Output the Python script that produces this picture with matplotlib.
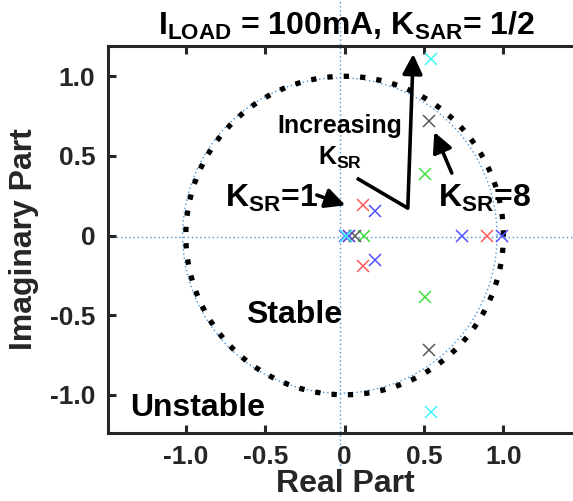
import numpy as np
import matplotlib
matplotlib.use("Agg")
import matplotlib.pyplot as plt

plt.rc('font', family='Liberation Sans', weight='bold')
plt.rc('axes', labelweight='bold')
plt.rc('mathtext', fontset='custom', rm='Liberation Sans:bold',
       it='Liberation Sans:bold', bf='Liberation Sans:bold', default='rm')

# pole locations (real, imaginary)
red_re   = [0.113, 0.113, 0.894, 0.03]
red_im   = [0.19, -0.19, 0.0, 0.0]
blue_re  = [0.19, 0.19, 0.74, 0.994, 0.0, 0.03]
blue_im  = [0.152, -0.152, 0.0, 0.0, 0.0, 0.0]
green_re = [0.505, 0.505, 0.12]
green_im = [0.385, -0.385, 0.0]
gray_re  = [0.532, 0.532, 0.065]
gray_im  = [0.72, -0.72, 0.0]
cyan_re  = [0.547, 0.547, 0.01]
cyan_im  = [1.107, -1.107, 0.0]

series = [
    (red_re, red_im, '#ff5a5a'),
    (blue_re, blue_im, '#5050ff'),
    (green_re, green_im, '#3ee03e'),
    (gray_re, gray_im, '#5a5a5a'),
    (cyan_re, cyan_im, '#3ff5f5'),
]

xticks = [-1.0, -0.5, 0.0, 0.5, 1.0]
xtick_labels = ['-1.0', '-0.5', '0', '0.5', '1.0']
yticks = [-1.0, -0.5, 0.0, 0.5, 1.0]
ytick_labels = ['-1.0', '-0.5', '0', '0.5', '1.0']

W, H = 573, 501
fig = plt.figure(figsize=(W/100, H/100), dpi=100)
ax = fig.add_axes([108/W, (H-433)/H, 474/W, 387/H])
ax.set_xlim(-1.49, 1.495)
ax.set_ylim(-1.24, 1.19)

gridc = '#4a95d6'
th = np.linspace(0, 2*np.pi, 400)
# light blue dotted grid circle and axes
ax.plot(-0.03 + 0.99*np.cos(th), 0.99*np.sin(th), color=gridc, lw=1.0,
        linestyle=(0, (1, 2)), zorder=1)
ax.plot([-1.49, 1.6], [-0.008, -0.008], color=gridc, lw=1.0,
        linestyle=(0, (1, 2)), zorder=1, clip_on=False)
ax.plot([-0.03, -0.03], [-1.55, 1.5], color=gridc, lw=1.0,
        linestyle=(0, (1, 2)), zorder=1, clip_on=False)

# black unit circle
ax.plot(np.cos(th), np.sin(th), color='black', lw=3.8,
        linestyle=(0, (1, 2.1)), dash_capstyle='butt', zorder=2)

for re, im, c in series:
    ax.plot(re, im, linestyle='none', marker='x', markersize=9,
            markeredgewidth=1.1, color=c, zorder=3)

arrow_kw = dict(arrowstyle='-|>,head_length=0.5,head_width=0.25', lw=2.6,
                color='black', mutation_scale=24, shrinkA=0, shrinkB=0)

# increasing K_SR bent arrow
ax.plot([0.077, 0.398], [0.36, 0.172], color='black', lw=2.6,
        solid_capstyle='butt', zorder=4)
ax.annotate('', xy=(0.432, 1.14), xytext=(0.398, 0.172),
            arrowprops=arrow_kw, annotation_clip=False, zorder=4)
ax.annotate('', xy=(0.005, 0.19), xytext=(-0.175, 0.254),
            arrowprops=arrow_kw, zorder=4)
ax.annotate('', xy=(0.565, 0.65), xytext=(0.675, 0.392),
            arrowprops=arrow_kw, zorder=4)

ax.text(-0.03, 0.643, 'Increasing', ha='center', va='baseline', fontsize=18)
ax.text(-0.03, 0.442, r'K$_{SR}$', ha='center', va='baseline', fontsize=18)
ax.text(-0.753, 0.179, r'K$_{SR}$=1', ha='left', va='baseline', fontsize=23)
ax.text(0.587, 0.179, r'K$_{SR}$=8', ha='left', va='baseline', fontsize=23)
ax.text(-0.32, -0.55, 'Stable', ha='center', va='baseline', fontsize=23)
ax.text(-1.352, -1.135, 'Unstable', ha='left', va='baseline', fontsize=23)

fig.text(347/W, (H-35)/H, r'I$_{LOAD}$ = 100mA, K$_{SAR}$= 1/2',
         ha='center', va='baseline', fontsize=23)

spc = '#262626'
for s in ['left', 'bottom', 'top']:
    ax.spines[s].set_linewidth(2.2)
    ax.spines[s].set_color(spc)
ax.spines['right'].set_visible(False)

ax.set_xticks(xticks)
ax.set_xticklabels(xtick_labels)
ax.set_yticks(yticks)
ax.set_yticklabels(ytick_labels)
ax.tick_params(direction='in', length=6, width=2.2, color=spc, labelsize=19,
               labelcolor=spc, top=True, right=False, pad=9)

ax.set_xlabel('Real Part', fontsize=23, color=spc, labelpad=0)
ax.set_ylabel('Imaginary Part', fontsize=23, color=spc, labelpad=8)

fig.savefig('out.png', dpi=100)
